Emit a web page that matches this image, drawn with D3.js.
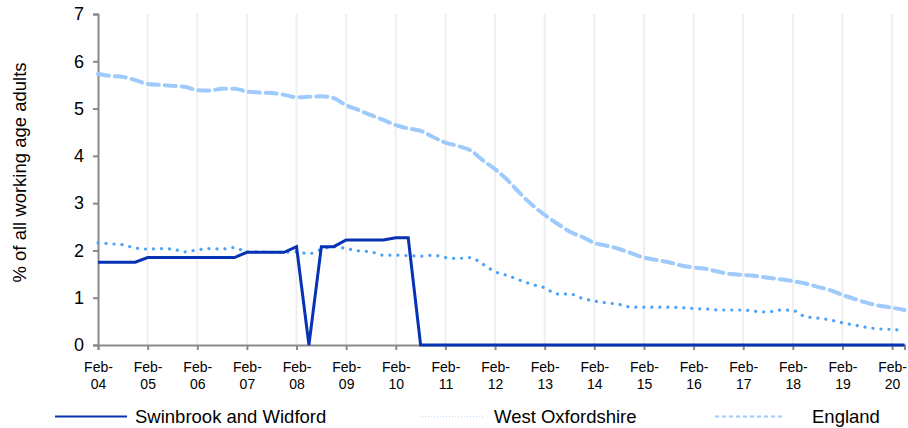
<!DOCTYPE html>
<html>
<head>
<meta charset="utf-8">
<script src="https://cdn.jsdelivr.net/npm/d3@7"></script>
<style>
  body { margin: 0; background: #fff; }
  text { font-family: "Liberation Sans", Arial, sans-serif; fill: #000; }
</style>
</head>
<body>
<div id="container"></div>
<script>
// quarterly periods, Feb-04 .. May-20
const quarters = [
  'Feb-04','May-04','Aug-04','Nov-04','Feb-05','May-05','Aug-05','Nov-05',
  'Feb-06','May-06','Aug-06','Nov-06','Feb-07','May-07','Aug-07','Nov-07',
  'Feb-08','May-08','Aug-08','Nov-08','Feb-09','May-09','Aug-09','Nov-09',
  'Feb-10','May-10','Aug-10','Nov-10','Feb-11','May-11','Aug-11','Nov-11',
  'Feb-12','May-12','Aug-12','Nov-12','Feb-13','May-13','Aug-13','Nov-13',
  'Feb-14','May-14','Aug-14','Nov-14','Feb-15','May-15','Aug-15','Nov-15',
  'Feb-16','May-16','Aug-16','Nov-16','Feb-17','May-17','Aug-17','Nov-17',
  'Feb-18','May-18','Aug-18','Nov-18','Feb-19','May-19','Aug-19','Nov-19',
  'Feb-20','May-20'
]

const swinbrook = [
  1.75, 1.75, 1.75, 1.75, 1.85, 1.85, 1.85, 1.85, 1.85, 1.85, 1.85, 1.85,
  1.96, 1.96, 1.96, 1.96, 2.08, 0, 2.08, 2.08, 2.22, 2.22, 2.22, 2.22,
  2.27, 2.27, 0, 0, 0, 0, 0, 0, 0, 0, 0, 0, 0, 0, 0, 0, 0, 0, 0, 0, 0, 0,
  0, 0, 0, 0, 0, 0, 0, 0, 0, 0, 0, 0, 0, 0, 0, 0, 0, 0, 0, 0
]

const westOxon = [
  2.16, 2.14, 2.12, 2.05, 2.03, 2.04, 2.03, 1.97, 2.01, 2.04, 2.03, 2.06,
  1.97, 1.97, 1.96, 1.96, 1.97, 1.93, 2.02, 2.08, 2.04, 1.99, 1.97, 1.90,
  1.90, 1.89, 1.88, 1.90, 1.85, 1.83, 1.85, 1.71, 1.55, 1.47, 1.37, 1.28,
  1.21, 1.08, 1.08, 0.99, 0.93, 0.89, 0.86, 0.80, 0.80, 0.80, 0.80, 0.79,
  0.77, 0.76, 0.74, 0.74, 0.74, 0.71, 0.70, 0.74, 0.73, 0.60, 0.57, 0.53,
  0.47, 0.42, 0.37, 0.34, 0.33, 0.30
]

const england = [
  5.73, 5.69, 5.67, 5.60, 5.52, 5.50, 5.48, 5.46, 5.39, 5.38, 5.42, 5.42,
  5.36, 5.34, 5.33, 5.29, 5.24, 5.25, 5.26, 5.22, 5.07, 4.97, 4.86, 4.76,
  4.65, 4.58, 4.53, 4.40, 4.28, 4.21, 4.12, 3.91, 3.72, 3.49, 3.21, 2.96,
  2.75, 2.57, 2.40, 2.29, 2.16, 2.10, 2.03, 1.94, 1.85, 1.80, 1.75, 1.68,
  1.64, 1.61, 1.55, 1.50, 1.48, 1.46, 1.42, 1.39, 1.35, 1.30, 1.23, 1.16,
  1.06, 0.97, 0.89, 0.83, 0.79, 0.74
]

const yTicks = [0, 1, 2, 3, 4, 5, 6, 7]
const yTitle = '% of all working age adults'

const series = [
  { name: 'Swinbrook and Widford', values: swinbrook },
  { name: 'West Oxfordshire', values: westOxon },
  { name: 'England', values: england }
]

const width = 908
const height = 428
const margin = { top: 14, right: 3.5, bottom: 83, left: 98 }

const svg = d3.select('#container')
  .append('svg')
  .attr('width', width)
  .attr('height', height)

const x = d3.scaleLinear()
  .domain([0, quarters.length - 1])
  .range([margin.left, width - margin.right])

const y = d3.scaleLinear()
  .domain([0, 7])
  .range([height - margin.bottom, margin.top])

// year ticks every Feb
const febIdx = quarters.map((q, i) => i).filter(i => quarters[i].startsWith('Feb'))

// vertical gridlines
svg.append('g')
  .selectAll('line')
  .data(febIdx.slice(1))
  .enter().append('line')
  .attr('x1', d => x(d)).attr('x2', d => x(d))
  .attr('y1', y(7)).attr('y2', y(0))
  .style('stroke', '#efefef')
  .style('stroke-width', 2)

// y axis
const yAxis = svg.append('g')
  .attr('transform', `translate(${margin.left},0)`)
  .call(d3.axisLeft(y).tickValues(yTicks).tickSize(5).tickPadding(9).tickFormat(d3.format('d')))
yAxis.select('.domain').style('stroke', '#898989').style('stroke-width', 2)
yAxis.selectAll('.tick line').style('stroke', '#898989').style('stroke-width', 2)
yAxis.selectAll('.tick text')
  .style('font-size', '18px')
  .style('font-family', '"Liberation Sans", Arial, sans-serif')
  .attr('fill', '#000')

// x axis
const xAxis = svg.append('g')
  .attr('transform', `translate(0,${y(0)})`)
  .call(d3.axisBottom(x).tickValues(febIdx).tickSize(5).tickFormat(''))
xAxis.select('.domain').style('stroke', '#898989').style('stroke-width', 2)
xAxis.selectAll('.tick line').style('stroke', '#898989').style('stroke-width', 2)

const xLab = xAxis.selectAll('.tick text')
  .text(null)
  .attr('y', 0)
  .attr('dy', null)
  .style('font-size', '14px')
  .style('font-family', '"Liberation Sans", Arial, sans-serif')
  .attr('fill', '#000')
xLab.append('tspan').attr('x', 0).attr('y', 27).text(d => quarters[d].split('-')[0] + '-')
xLab.append('tspan').attr('x', 0).attr('y', 44).text(d => quarters[d].split('-')[1])

// y title
svg.append('text')
  .attr('transform', `translate(26,${(y(0) + y(7)) / 2 - 7}) rotate(-90)`)
  .attr('text-anchor', 'middle')
  .style('font-size', '18.5px')
  .text(yTitle)

const lineStraight = d3.line()
  .x((d, i) => x(i))
  .y(d => y(d))

const lineSmooth = d3.line()
  .x((d, i) => x(i))
  .y(d => y(d))
  .curve(d3.curveMonotoneX)

// England - light dashed
svg.append('path')
  .attr('d', lineSmooth(england))
  .style('fill', 'none')
  .style('stroke', '#9ecbfb')
  .style('stroke-width', 4)
  .style('stroke-dasharray', '11,6')
  .style('stroke-linecap', 'round')

// West Oxfordshire - dotted
svg.append('path')
  .attr('d', lineSmooth(westOxon))
  .style('fill', 'none')
  .style('stroke', '#4fa3f7')
  .style('stroke-width', 3.2)
  .style('stroke-dasharray', '0.1,7.9')
  .style('stroke-linecap', 'round')

// Swinbrook - solid dark blue
svg.append('path')
  .attr('d', lineStraight(swinbrook))
  .style('fill', 'none')
  .style('stroke', '#0632b4')
  .style('stroke-width', 3)
  .style('stroke-linejoin', 'miter')

// legend
const legendY = 416.5
const legend = [
  { x1: 55, x2: 127, tx: 135, stroke: '#0632b4', w: 2.2, dash: null },
  { x1: 419, x2: 484, tx: 494, stroke: '#c5dff9', w: 1.5, dash: '1,2' },
  { x1: 715, x2: 782, tx: 812, stroke: '#9ecbfb', w: 2, dash: '4,3' }
]
const lg = svg.append('g')
  .selectAll('g')
  .data(legend)
  .enter().append('g')
lg.append('line')
  .attr('x1', d => d.x1).attr('x2', d => d.x2)
  .attr('y1', legendY).attr('y2', legendY)
  .style('stroke', d => d.stroke)
  .style('stroke-width', d => d.w)
  .style('stroke-dasharray', d => d.dash)
lg.append('text')
  .attr('x', d => d.tx)
  .attr('y', legendY + 6)
  .style('font-size', '18.5px')
  .text((d, i) => series[i].name)
</script>
</body>
</html>
